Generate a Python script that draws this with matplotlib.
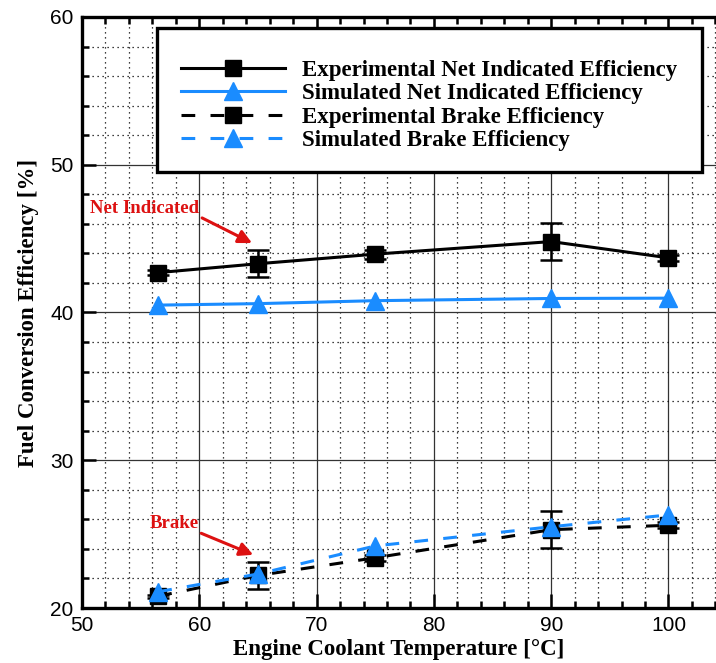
import numpy as np
import matplotlib.pyplot as plt
from matplotlib.lines import Line2D
from matplotlib.patches import Rectangle
from matplotlib.ticker import MultipleLocator

# coolant temperature [°C]
temp = [56.5, 65, 75, 90, 100]

# net indicated efficiency [%]
exp_net = [42.7, 43.3, 43.95, 44.8, 43.7]
exp_net_err = [0.15, 0.9, 0.3, 1.25, 0.2]
sim_net = [40.5, 40.6, 40.8, 40.95, 40.97]

# brake efficiency [%]
exp_brake = [20.8, 22.2, 23.4, 25.3, 25.6]
exp_brake_err = [0.1, 0.9, 0.2, 1.25, 0.2]
sim_brake = [21.1, 22.3, 24.2, 25.5, 26.3]

blue = '#1a8cff'
serif = 'Liberation Serif'
sans = 'Liberation Sans'

W, H = 716, 663
fig = plt.figure(figsize=(W / 100, H / 100), dpi=100)
ax = fig.add_axes([82/W, 55/H, 1 - 82/W, 591/H])

dash = (0, (4.5, 5))

# experimental lines with error bars
ax.errorbar(temp, exp_net, yerr=exp_net_err, color='black', lw=2.2,
            marker='s', ms=11.5, capsize=8, elinewidth=1.8, capthick=1.8, zorder=4)
ax.plot(temp, sim_net, color=blue, lw=2.2, marker='^', ms=13, zorder=5)
ax.errorbar(temp, exp_brake, yerr=exp_brake_err, color='black', lw=2.2, ls=dash,
            marker='s', ms=11.5, capsize=8, elinewidth=1.8, capthick=1.8, zorder=4)
ax.plot(temp, sim_brake, color=blue, lw=2.2, ls=dash, marker='^', ms=13, zorder=5)

ax.set_xlim(50, 104.05)
ax.set_ylim(20, 60)
ax.xaxis.set_major_locator(MultipleLocator(10))
ax.xaxis.set_minor_locator(MultipleLocator(2))
ax.yaxis.set_major_locator(MultipleLocator(10))
ax.yaxis.set_minor_locator(MultipleLocator(2))

ax.grid(which='major', color='#333333', lw=0.9, ls='-', zorder=1)
ax.grid(which='minor', color='black', lw=0.9, ls=(0, (1, 3)), zorder=1)
ax.set_axisbelow(True)

ax.spines['right'].set_visible(False)
for s in ['left', 'bottom', 'top']:
    ax.spines[s].set_linewidth(2.4)

ax.tick_params(which='both', direction='in', top=True, right=False, width=1.8)
ax.tick_params(which='major', length=10, labelsize=15, pad=6)
ax.tick_params(which='minor', length=5)
for lab in ax.get_xticklabels() + ax.get_yticklabels():
    lab.set_fontfamily(sans)

ax.set_xlabel('Engine Coolant Temperature [°C]', fontfamily=serif, fontweight='bold',
              fontsize=16.5, labelpad=3)
ax.set_ylabel('Fuel Conversion Efficiency [%]', fontfamily=serif, fontweight='bold',
              fontsize=16.5, labelpad=8)

# annotations
ax.annotate('Net Indicated', xy=(64.5, 44.7), xytext=(50.7, 47.07),
            color='#dd1111', fontfamily=serif, fontweight='bold', fontsize=13.5,
            va='center', ha='left',
            arrowprops=dict(arrowstyle='-|>', color='#dd1111', lw=2.2, mutation_scale=20,
                            shrinkA=0, shrinkB=0, relpos=(1.0, 0.0)))
ax.annotate('Brake', xy=(64.6, 23.6), xytext=(55.74, 25.71),
            color='#dd1111', fontfamily=serif, fontweight='bold', fontsize=13.5,
            va='center', ha='left',
            arrowprops=dict(arrowstyle='-|>', color='#dd1111', lw=2.2, mutation_scale=20,
                            shrinkA=0, shrinkB=0, relpos=(1.0, 0.0)))

# legend box drawn separately so the entries can sit off-centre in it
box = Rectangle((157/W, 1 - 172/H), 545/W, 144/H, transform=fig.transFigure,
                facecolor='white', edgecolor='black', lw=2.4, clip_on=False, zorder=9)
ax.add_patch(box)

handles = [
    Line2D([], [], color='black', lw=2.2, marker='s', ms=11.5),
    Line2D([], [], color=blue, lw=2.2, marker='^', ms=13),
    Line2D([], [], color='black', lw=2.2, ls=dash, marker='s', ms=11.5),
    Line2D([], [], color=blue, lw=2.2, ls=dash, marker='^', ms=13),
]
labels = ['Experimental Net Indicated Efficiency',
          'Simulated Net Indicated Efficiency',
          'Experimental Brake Efficiency',
          'Simulated Brake Efficiency']
leg = ax.legend(handles, labels, loc='upper left',
                bbox_to_anchor=(181/W, 1 - 60/H), bbox_transform=fig.transFigure,
                prop={'family': serif, 'weight': 'bold', 'size': 16.5},
                frameon=False, handlelength=4.55, handletextpad=0.74,
                labelspacing=0.1, borderpad=0, borderaxespad=0)
leg.set_zorder(10)

fig.savefig('out.png', dpi=100)
